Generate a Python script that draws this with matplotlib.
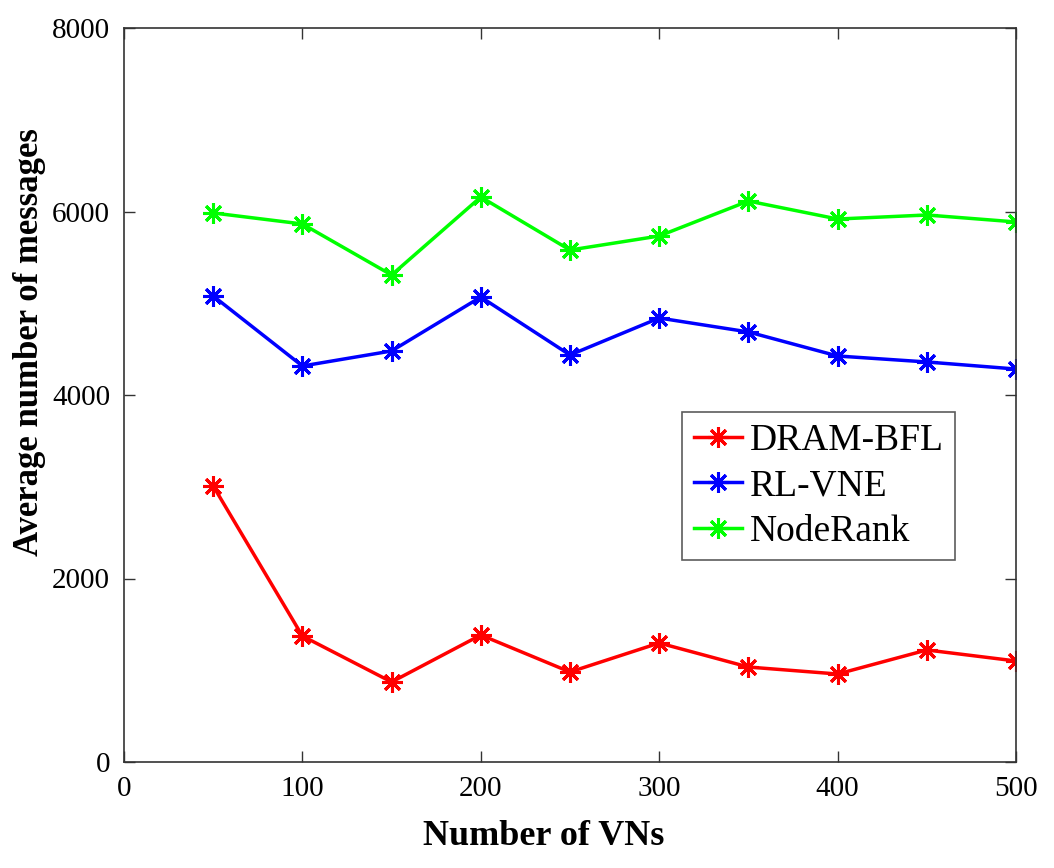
import matplotlib
matplotlib.use("Agg")
import matplotlib.pyplot as plt

x_vns = [50, 100, 150, 200, 250, 300, 350, 400, 450, 500]
dram_bfl = [3008, 1373, 872, 1384, 981, 1297, 1035, 959, 1221, 1101]
rl_vne = [5079, 4316, 4480, 5068, 4436, 4839, 4687, 4425, 4360, 4283]
noderank = [5984, 5864, 5308, 6158, 5580, 5733, 6114, 5918, 5962, 5886]
x_ticks = [0, 100, 200, 300, 400, 500]
y_ticks = [0, 2000, 4000, 6000, 8000]

plt.rcParams['font.family'] = ['Liberation Serif', 'DejaVu Serif']

fig = plt.figure(figsize=(10.54, 8.68), dpi=100)
ax = fig.add_axes([124/1054, 1-762/868, (1016-124)/1054, (762-28)/868])

style = dict(marker=(8, 2, 0), markersize=15, linewidth=2.5, markeredgewidth=2.2)
ax.plot(x_vns, dram_bfl, color='#ff0000', label='DRAM-BFL', **style)
ax.plot(x_vns, rl_vne, color='#0000ff', label='RL-VNE', **style)
ax.plot(x_vns, noderank, color='#00ff00', label='NodeRank', **style)

ax.set_xlim(0, 500)
ax.set_ylim(0, 8000)
ax.set_xticks(x_ticks)
ax.set_yticks(y_ticks)
ax.tick_params(direction='in', labelsize=21, length=8, width=1, pad=10,
               top=True, right=True, color='#333333')
for s in ax.spines.values():
    s.set_linewidth(1.2)
    s.set_color('#333333')

ax.set_xlabel('Number of VNs', fontsize=26, fontweight='bold')
ax.set_ylabel('Average number of messages', fontsize=25, fontweight='bold')
ax.xaxis.set_label_coords(0.47, -0.079)
ax.yaxis.set_label_coords(-0.088, 0.572)

leg = ax.legend(loc='upper left', bbox_to_anchor=(0.626, 0.477), fontsize=27,
                frameon=True, fancybox=False, edgecolor='#333333',
                handlelength=1.3, handletextpad=0.2, borderpad=0.3,
                labelspacing=0.3, borderaxespad=0)
leg.get_frame().set_linewidth(1.2)

fig.savefig('out.png', dpi=100)
